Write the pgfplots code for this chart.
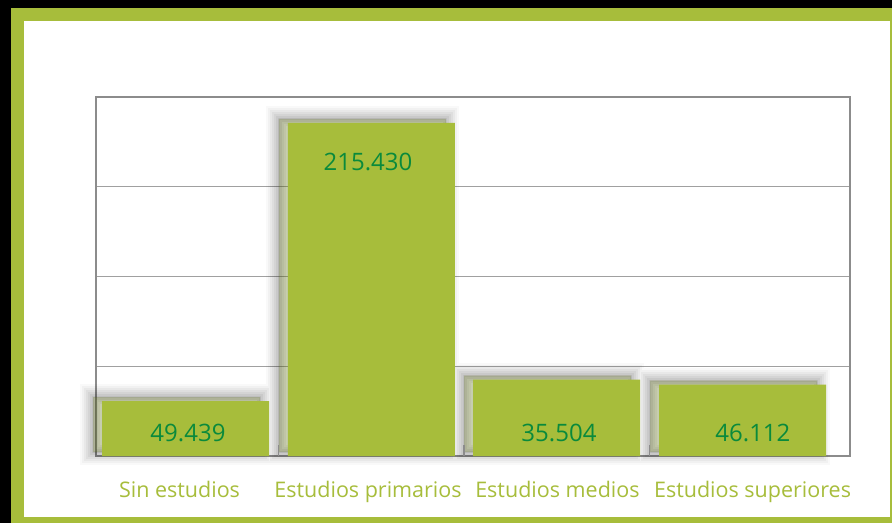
\documentclass[border=0pt]{standalone}
\usepackage{pgfplots}
\pgfplotsset{compat=1.18}
\usepackage{pgfplotstable}
\usepackage{fontspec}
\setmainfont{Open Sans}
\definecolor{olivegreen}{RGB}{167,189,59}
\definecolor{labelgreen}{RGB}{10,138,60}
\definecolor{gridgray}{RGB}{160,160,160}
\definecolor{axisgray}{RGB}{140,140,140}

% bar positions and heights as drawn (in thousands)
\pgfplotstableread{
x height
-0.025 35.504
0.9615 215.430
1.943 49.439
2.930 46.112
}\bars
% printed labels and their positions
\pgfplotstableread{
x ypos label
-0.012 15.2 49.439
0.943 190.5 215.430
1.956 15.2 35.504
2.985 15.2 46.112
}\labels

\pgfplotsset{
  frame/.style={
    at={(96pt,67pt)}, anchor=south west,
    scale only axis, width=754pt, height=359pt,
    xmin=-0.5, xmax=3.5, ymin=0, ymax=232.25,
  },
}

\begin{document}
\begin{tikzpicture}
\useasboundingbox (0,0) rectangle (892pt,523pt);
\fill[black] (0,0) rectangle (892pt,523pt);
\fill[olivegreen] (11pt,0) rectangle (892pt,515pt);
\fill[white] (24pt,6pt) rectangle (890pt,502pt);
\begin{axis}[
  frame,
  xtick={-0.057,0.943,1.948,2.983},
  xticklabels={Sin estudios, Estudios primarios, Estudios medios, Estudios superiores},
  major x tick style={draw=none},
  ytick={0,58.06,116.13,174.19,232.25},
  yticklabels={},
  major y tick style={draw=none},
  ymajorgrids,
  grid style={gridgray, line width=0.9pt},
  axis line style={axisgray, line width=1.3pt},
  xticklabel style={anchor=base, yshift=-41pt, text=olivegreen, font=\fontsize{21.5}{26}\selectfont},
  clip=false,
]
\addplot[ybar, bar width=167pt, bar shift=0pt, fill=olivegreen, draw=none,
  preaction={draw=black, line width=26pt, opacity=0.025, transform canvas={shift={(-9pt,4pt)}}},
  preaction={draw=black, line width=22pt, opacity=0.03, transform canvas={shift={(-9pt,4pt)}}},
  preaction={draw=black, line width=18pt, opacity=0.035, transform canvas={shift={(-9pt,4pt)}}},
  preaction={draw=black, line width=14pt, opacity=0.04, transform canvas={shift={(-9pt,4pt)}}},
  preaction={draw=black, line width=10pt, opacity=0.045, transform canvas={shift={(-9pt,4pt)}}},
  preaction={draw=black, line width=6pt, opacity=0.05, transform canvas={shift={(-9pt,4pt)}}},
  preaction={draw=black, line width=2pt, opacity=0.05, transform canvas={shift={(-9pt,4pt)}}},
  preaction={fill=black, opacity=0.06, transform canvas={shift={(-9pt,4pt)}}},
] table[x=x, y=height] {\bars};
\addplot[only marks, mark=none, nodes near coords, point meta=explicit symbolic,
  nodes near coords align={center},
  every node near coord/.append style={anchor=center, text=labelgreen, font=\fontsize{24}{28}\selectfont}
] table[x=x, y=ypos, meta=label] {\labels};
\end{axis}
% overlay axis holding only the small category separator ticks
\begin{axis}[
  frame,
  axis line style={draw=none},
  xtick={0.468,1.452,2.436},
  xticklabels={},
  xtick pos=bottom,
  tick align=inside,
  major tick length=11pt,
  major x tick style={axisgray, line width=1.2pt},
  ytick=\empty,
]
\end{axis}
\end{tikzpicture}
\end{document}
